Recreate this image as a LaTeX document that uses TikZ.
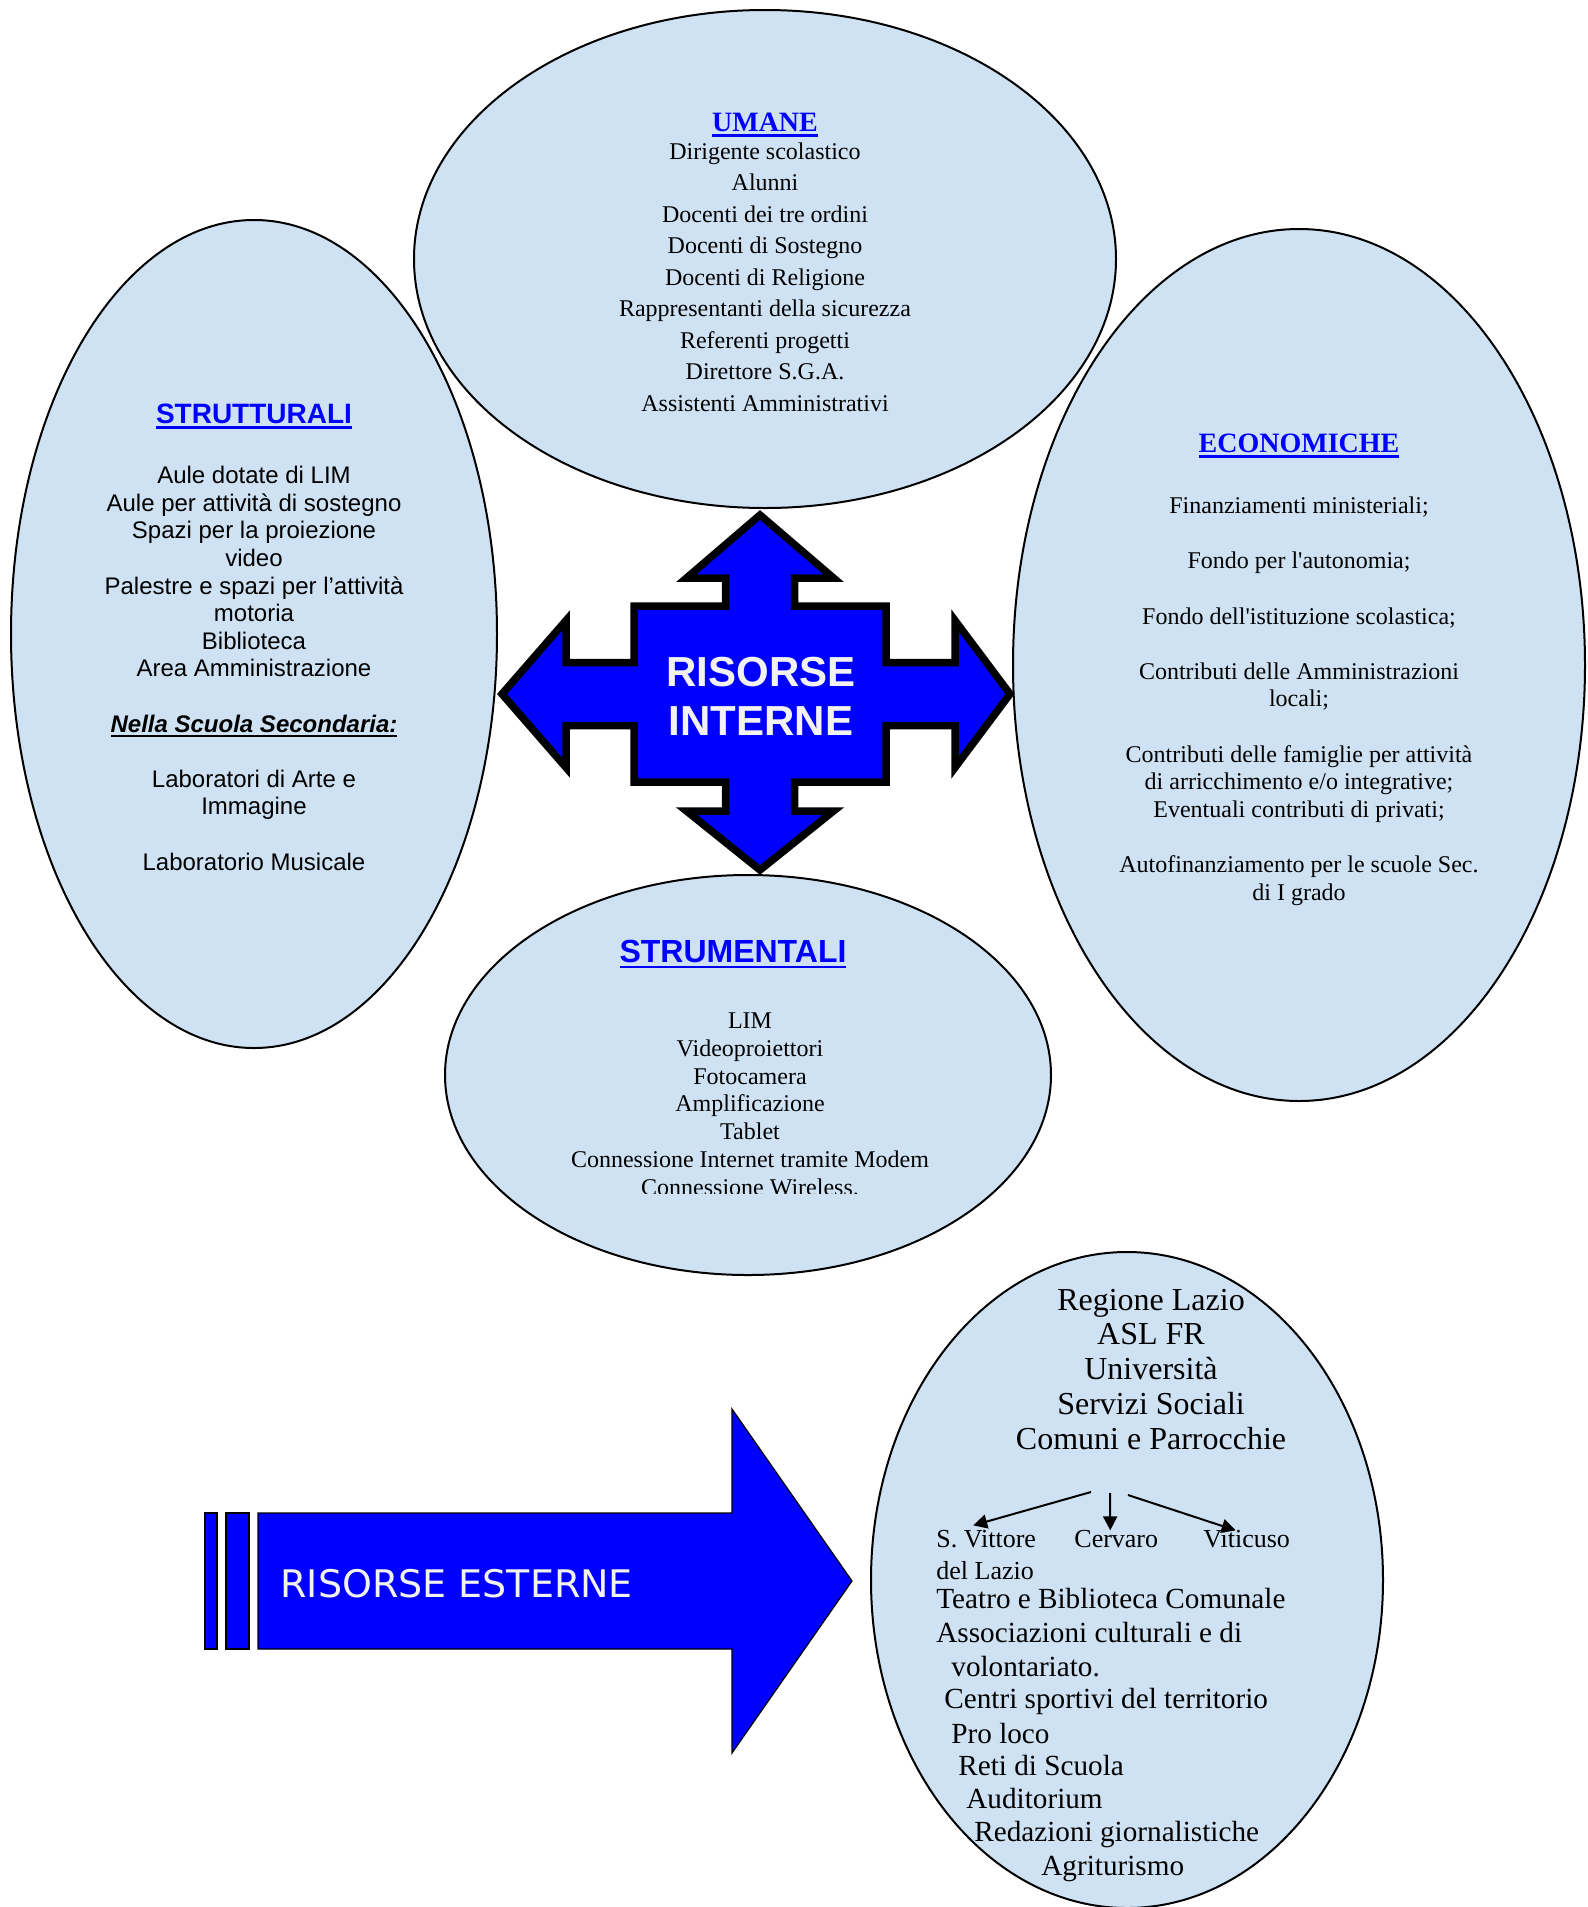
\documentclass[tikz,border=0pt]{standalone}
\usepackage{fontspec}
\setmainfont{Liberation Serif}
\setsansfont{Liberation Sans}
\newfontfamily\verafont{DejaVu Sans}
\usetikzlibrary{shapes.geometric,arrows.meta}
\definecolor{bubblefill}{RGB}{207,226,243}
\definecolor{arrowblue}{RGB}{0,0,255}
\definecolor{labelgrey}{RGB}{242,242,242}
\newsavebox\ulbox
\newcommand{\undl}[1]{\sbox\ulbox{#1}\rlap{\rule[-0.2em]{\wd\ulbox}{0.09em}}\usebox\ulbox}

\begin{document}
\begin{tikzpicture}
  [x=0.5pt,y=-0.5pt,
   bubble/.style={ellipse,draw=black,line width=1pt,fill=bubblefill,inner sep=0pt},
   txt/.style={inner sep=0pt,anchor=base,align=center},
   title/.style={txt,text=arrowblue},
   line/.style={inner sep=0pt,anchor=base west,align=left},
   crossarrow/.style={fill=arrowblue,draw=black,line width=3.75pt,line join=miter},
   bigarrow/.style={fill=arrowblue,draw=black,line width=0.6pt},
   link/.style={line width=1pt,-{Triangle[length=7pt,width=7pt]}}]
  \useasboundingbox (0,0) rectangle (1588,1907);
  % risorse interne (multi-line nodes sit on the baseline of their last line)
  \node[bubble,minimum width=243pt,minimum height=414pt] (strutt) at (254,634) {};
  \node[bubble,minimum width=286pt,minimum height=436pt] (econ) at (1299,665) {};
  \node[bubble,minimum width=303pt,minimum height=200pt] (strum) at (748,1075) {};
  \node[bubble,minimum width=351pt,minimum height=249pt] (umane) at (765,259) {};
  \begin{scope}[shift={(760,694)}]
    \draw[crossarrow] (0,-179) -- (73.5,-116) -- (34.5,-116) -- (34.5,-88) -- (126,-88) -- (126,-31.5)
      -- (195,-31.5) -- (195,-73.5) -- (250,0) -- (195,73.5) -- (195,31.5) -- (126,31.5) -- (126,88)
      -- (34.5,88) -- (34.5,117) -- (73.5,117) -- (0,176) -- (-73.5,117) -- (-34.5,117) -- (-34.5,88)
      -- (-126,88) -- (-126,31.5) -- (-194,31.5) -- (-194,73.5) -- (-258,0) -- (-194,-73.5)
      -- (-194,-31.5) -- (-126,-31.5) -- (-126,-88) -- (-34.5,-88) -- (-34.5,-116) -- (-73.5,-116) -- cycle;
  \end{scope}
  \node[txt,font=\sffamily\bfseries\fontsize{21}{24.5}\selectfont,text=labelgrey] (interne) at (761,735) {RISORSE\\INTERNE};

  \node[title,font=\fontsize{14}{16}\selectfont\bfseries] (umanetitle) at (765,131) {\undl{UMANE}};
  \node[txt,font=\fontsize{12}{15.75}\selectfont] (umanelist) at (765,411) {Dirigente scolastico\\Alunni\\Docenti dei tre ordini\\Docenti di Sostegno\\Docenti di Religione\\Rappresentanti della sicurezza\\Referenti progetti\\Direttore S.G.A.\\Assistenti Amministrativi};

  \node[title,font=\sffamily\bfseries\fontsize{14}{16}\selectfont] (strutttitle) at (254,423) {\undl{STRUTTURALI}};
  \node[txt,font=\sffamily\fontsize{12}{13.8}\selectfont] (struttlist) at (254,870) {Aule dotate di LIM\\Aule per attività di sostegno\\Spazi per la proiezione\\video\\Palestre e spazi per l’attività\\motoria\\Biblioteca\\Area Amministrazione\\[13.8pt]\undl{\bfseries\itshape Nella Scuola Secondaria:}\\[13.8pt]Laboratori di Arte e\\Immagine\\[13.8pt]Laboratorio Musicale};

  \node[title,font=\fontsize{14}{16}\selectfont\bfseries] (econtitle) at (1299,452) {\undl{ECONOMICHE}};
  \node[txt,font=\fontsize{12}{13.8}\selectfont] (econlist) at (1299,900) {Finanziamenti ministeriali;\\[13.8pt]Fondo per l\textquotesingle autonomia;\\[13.8pt]Fondo dell\textquotesingle istituzione scolastica;\\[13.8pt]Contributi delle Amministrazioni\\locali;\\[13.8pt]Contributi delle famiglie per attività\\di arricchimento e/o integrative;\\Eventuali contributi di privati;\\[13.8pt]Autofinanziamento per le scuole Sec.\\di I grado};

  \node[title,font=\sffamily\bfseries\fontsize{16}{18}\selectfont] (strumtitle) at (733,962) {\undl{STRUMENTALI}};
  \begin{scope}
    \clip (446,990) rectangle (1051,1193);
    \node[txt,font=\fontsize{12}{13.85}\selectfont] (strumlist) at (750,1195) {LIM\\Videoproiettori\\Fotocamera\\Amplificazione\\Tablet\\Connessione Internet tramite Modem\\Connessione Wireless.};
  \end{scope}

  % risorse esterne
  \draw[bigarrow] (205,1513) rectangle (217,1649);
  \draw[bigarrow] (226,1513) rectangle (249,1649);
  \draw[bigarrow] (258,1513) -- (732,1513) -- (732,1409) -- (852,1581) -- (732,1753) -- (732,1649) -- (258,1649) -- cycle;
  \node[inner sep=0pt,anchor=base west,font=\verafont\fontsize{19}{22}\selectfont,text=labelgrey] (esterne) at (280,1597) {RISORSE ESTERNE};

  \node[bubble,minimum width=256pt,minimum height=328pt] (ext) at (1127,1580) {};
  \node[txt,font=\fontsize{16}{17.35}\selectfont] (enti) at (1151,1449) {Regione Lazio\\ASL FR\\Università\\Servizi Sociali\\Comuni e Parrocchie};
  \node[line,font=\fontsize{13}{16}\selectfont] (svittore) at (936,1579) {S. Vittore\\del Lazio};
  \node[line,font=\fontsize{13}{16}\selectfont] (cervaro) at (1074,1547) {Cervaro};
  \node[line,font=\fontsize{13}{16}\selectfont] (viticuso) at (1203,1547) {Viticuso};
  \foreach \x/\y/\lbl [count=\i] in {936/1608/Teatro e Biblioteca Comunale,936/1642/Associazioni culturali e di,
    951/1676/volontariato.,944/1708/Centri sportivi del territorio,951/1743/Pro loco,958/1775/Reti di Scuola,
    966/1808/Auditorium,974/1841/Redazioni giornalistiche,1041/1875/Agriturismo}
    \node[line,font=\fontsize{14.6}{16}\selectfont] (rete\i) at (\x,\y) {\lbl};
  \coordinate (fork1) at (1091,1492);
  \coordinate (fork2) at (1110,1493);
  \coordinate (fork3) at (1128,1495);
  \draw[link] (fork1) -- ([xshift=-6.5pt,yshift=2pt]svittore.north);
  \draw[link] (fork2) -- ([xshift=-3pt,yshift=-0.5pt]cervaro.north);
  \draw[link] (fork3) -- ([xshift=-5.5pt,yshift=-0.5pt]viticuso.north);
\end{tikzpicture}
\end{document}
